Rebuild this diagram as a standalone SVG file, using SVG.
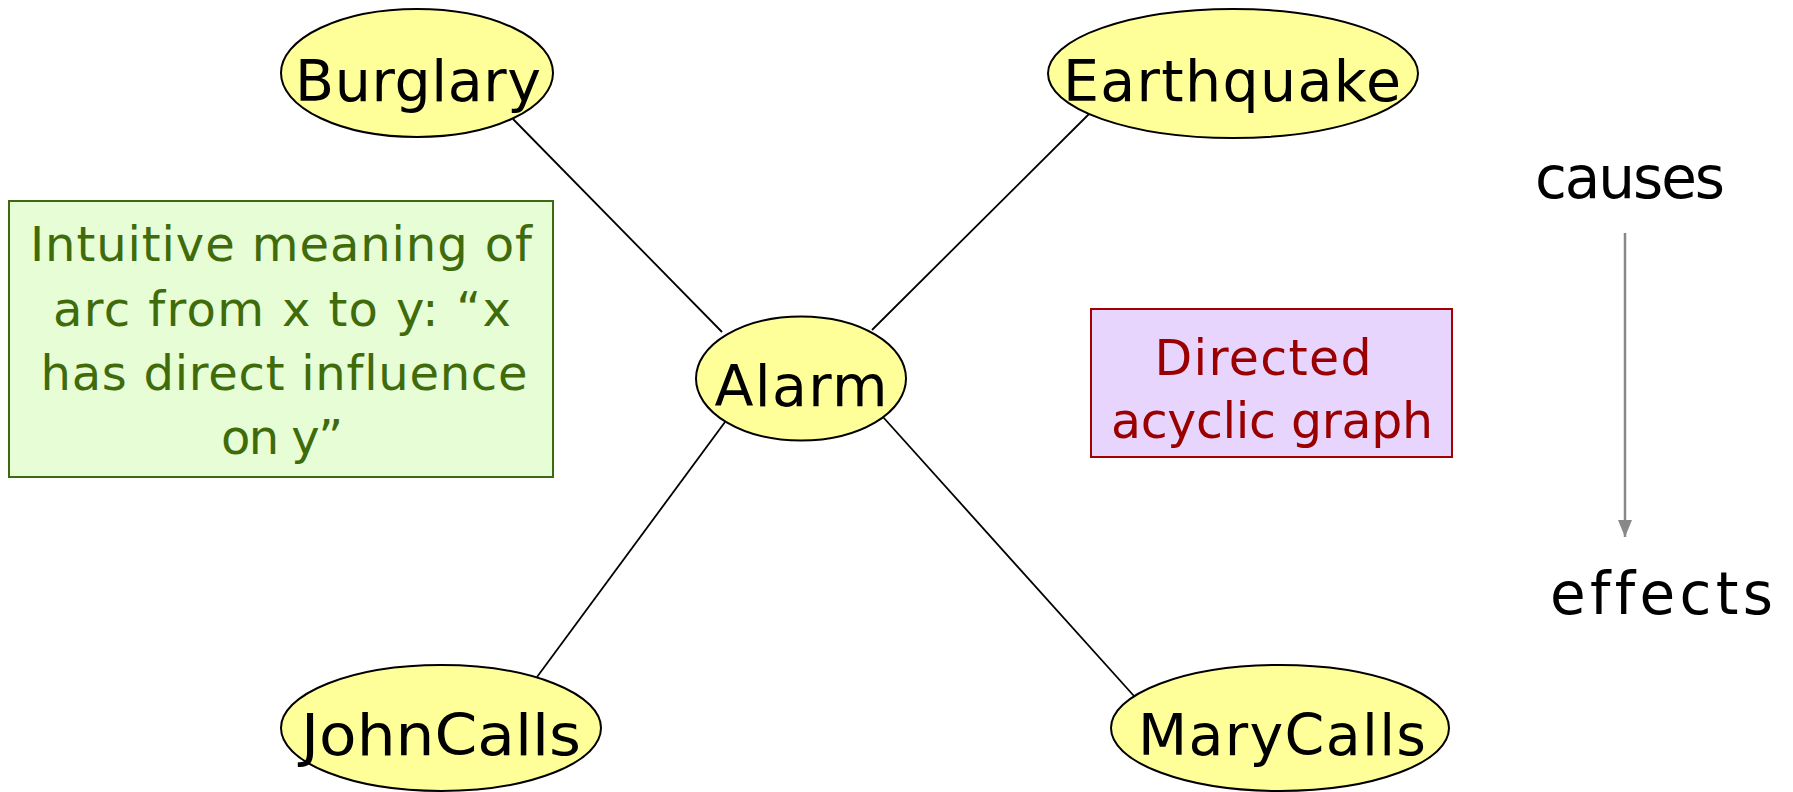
<svg xmlns="http://www.w3.org/2000/svg" width="1793" height="792" viewBox="0 0 1793 792">
<style>
  text { font-variant-ligatures: none; }
  .node ellipse { fill: #ffff99; stroke: #000; stroke-width: 2; }
  .lbl { font-family: "DejaVu Sans", sans-serif; font-size: 57px; fill: #000; text-anchor: middle; }
  .edge { stroke: #000; stroke-width: 1.8; fill: none; }
  .gtxt { font-family: "DejaVu Sans", sans-serif; font-size: 48px; fill: #3f6b0a; text-anchor: middle; }
  .ptxt { font-family: "DejaVu Sans", sans-serif; font-size: 49px; fill: #9a0000; text-anchor: middle; }
  .side { font-family: "DejaVu Sans", sans-serif; font-size: 58px; fill: #000; }
</style>
<defs>
  <marker id="arr" markerWidth="17" markerHeight="14" refX="17" refY="7" orient="auto" markerUnits="userSpaceOnUse" viewBox="0 0 17 14">
    <path d="M0,0 L17,7 L0,14 Z" fill="#888"/>
  </marker>
</defs>
<rect width="1793" height="792" fill="#fff"/>
<g id="connectors">
  <line class="edge" x1="513" y1="119" x2="722" y2="332"/>
  <line class="edge" x1="1089" y1="114" x2="872" y2="330"/>
  <line class="edge" x1="725" y1="422" x2="537" y2="677"/>
  <line class="edge" x1="883" y1="417" x2="1134" y2="696"/>
</g>
<g id="burglary" class="node">
  <ellipse cx="417" cy="73" rx="136" ry="64"/>
  <text class="lbl" x="418" y="101" textLength="246" lengthAdjust="spacing">Burglary</text>
</g>
<g id="earthquake" class="node">
  <ellipse cx="1233" cy="73.5" rx="185" ry="64.5"/>
  <text class="lbl" x="1232" y="101" textLength="338" lengthAdjust="spacing">Earthquake</text>
</g>
<g id="alarm" class="node">
  <ellipse cx="801" cy="378.5" rx="105" ry="62"/>
  <text class="lbl" x="801" y="406" textLength="173" lengthAdjust="spacing">Alarm</text>
</g>
<g id="johncalls" class="node">
  <ellipse cx="441" cy="728" rx="160" ry="63"/>
  <text class="lbl" x="441" y="755" textLength="280" lengthAdjust="spacingAndGlyphs">JohnCalls</text>
</g>
<g id="marycalls" class="node">
  <ellipse cx="1280" cy="728" rx="169" ry="63"/>
  <text class="lbl" x="1282" y="755" textLength="288" lengthAdjust="spacing">MaryCalls</text>
</g>
<g id="meaning-note">
  <rect x="9" y="201" width="544" height="276" fill="#e6fdd5" stroke="#3b6b0e" stroke-width="2"/>
  <text class="gtxt" x="281" y="261" textLength="502" lengthAdjust="spacing">Intuitive meaning of</text>
  <text class="gtxt" x="282" y="326" textLength="458" lengthAdjust="spacing">arc from x to y: “x</text>
  <text class="gtxt" x="284" y="390" textLength="487" lengthAdjust="spacing">has direct influence</text>
  <text class="gtxt" x="282" y="454" textLength="122" lengthAdjust="spacing">on y”</text>
</g>
<g id="dag-note">
  <rect x="1091" y="309" width="361" height="148" fill="#e8d5fd" stroke="#a30000" stroke-width="2"/>
  <text class="ptxt" x="1263" y="375" textLength="217" lengthAdjust="spacing">Directed</text>
  <text class="ptxt" x="1272" y="438" textLength="322" lengthAdjust="spacing">acyclic graph</text>
</g>
<g id="causes-effects">
  <text class="side" x="1535" y="198" textLength="190" lengthAdjust="spacing">causes</text>
  <line x1="1625" y1="233" x2="1625" y2="537" stroke="#888" stroke-width="2.5" marker-end="url(#arr)"/>
  <text class="side" x="1550" y="614" textLength="223" lengthAdjust="spacing">effects</text>
</g>
</svg>
